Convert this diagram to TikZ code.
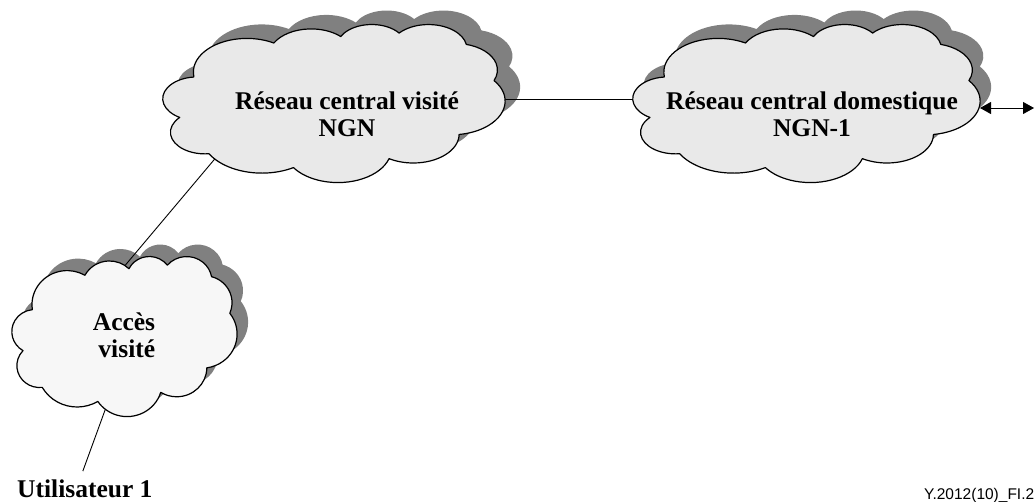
\documentclass[tikz,border=0pt]{standalone}
\usepackage{fontspec}
\setmainfont{Liberation Serif}
\setsansfont{Liberation Sans}
\usetikzlibrary{calc,arrows.meta}
\pgfdeclarelayer{shadow}
\pgfdeclarelayer{wire}
\pgfsetlayers{shadow,wire,main}
\definecolor{netfill}{HTML}{E9E9E9}
\definecolor{accfill}{HTML}{F7F7F7}
\definecolor{shadowgray}{HTML}{808080}

% one elliptical lobe of the cloud outline: x radius, y radius,
% start angle and sweep, the angles measured as seen on the page
\newcommand\lobe[4]{arc[x radius=#1, y radius=#2,
  start angle={atan2(#1*sin(#3),#2*cos(#3))},
  delta angle={mod(atan2(#1*sin(#3+#4),#2*cos(#3+#4))-atan2(#1*sin(#3),#2*cos(#3))+720,360)}]}
% cloud outline in a 432 x 432 box, y pointing down
\newcommand\cloudoutline{(39,143.7)
  \lobe{67.53}{91.90}{-190.48748}{123.78053}
  \lobe{53.33}{72.67}{-144.10238}{89.94523}
  \lobe{43.65}{59.45}{-145.80792}{99.72302}
  \lobe{48.57}{65.95}{-130.98607}{117.24173}
  \lobe{53.33}{72.73}{-78.70888}{109.02692}
  \lobe{67.75}{92.20}{-46.26725}{130.269}
  \lobe{57.85}{78.67}{0.62502}{114.03333}
  \lobe{67.52}{92.15}{22.4516}{115.17255}
  \lobe{77.20}{105.43}{66.24263}{75.71102}
  \lobe{43.60}{59.18}{-274.94208}{146.73557}
  \lobe{43.45}{59.45}{-246.8285}{152.51885}
  -- cycle}
% \cloudat{style}{left}{top}{width}{height}, top measured down from the upper edge
\newcommand\cloudat[5]{\path[#1, shift={(#2,501-#3)}, xscale=#4/432, yscale=-#5/432] \cloudoutline;}

\tikzset{
  cloudbody/.style={draw=black, line width=1.2pt, line join=round, fill=netfill},
  cloudshade/.style={fill=shadowgray},
  cloudlabel/.style={font=\fontsize{25.5}{27}\selectfont\bfseries, align=center, inner sep=0pt},
  wire/.style={draw=black, line width=0.9pt},
  dbl/.style={wire, {Triangle[length=11pt,width=12pt]}-{Triangle[length=11pt,width=12pt]}}
}
\begin{document}
\begin{tikzpicture}[x=1pt,y=1pt]
\useasboundingbox (0,0) rectangle (1035,501);

% shadows
\begin{pgfonlayer}{shadow}
\cloudat{cloudshade}{178}{10}{342}{158}
\cloudat{cloudshade}{644}{10}{347}{158}
\cloudat{cloudshade}{23}{244}{225}{160}
\end{pgfonlayer}

% cloud bodies
\cloudat{cloudbody}{163}{24}{342}{158}
\cloudat{cloudbody}{633}{24}{347}{158}
\cloudat{cloudbody, fill=accfill}{12}{256}{225}{160}

% labels
\node[cloudlabel] (vc) at (347,387) {Réseau central visité\\NGN};
\node[cloudlabel] (hc) at (812,387) {Réseau central domestique\\NGN-1};
\node[cloudlabel, align=right] (acc) at (124,166) {Accès\\visité};
\node[cloudlabel, anchor=base west] (usr) at (17,4) {Utilisateur 1};
\node[font=\sffamily\fontsize{15.5}{17}\selectfont, anchor=base west, inner sep=0pt] (ref) at (924,2) {Y.2012(10)\_FI.2};

% links, passing under the cloud bodies
\coordinate (hcedge) at ($(hc)+(168,6)$);
\coordinate (ext) at (1034,393);
\begin{pgfonlayer}{wire}
\draw[wire] ($(vc)+(0,15)$) -- ($(hc)+(0,15)$);
\draw[wire] ($(vc)+(-91,4)$) -- ($(acc)+(-28,35)$);
\draw[wire] ($(acc)+(-8,-45)$) -- ($(usr.north)+(-2,8)$);
\end{pgfonlayer}
\draw[dbl] (hcedge) -- (ext);
\end{tikzpicture}
\end{document}
